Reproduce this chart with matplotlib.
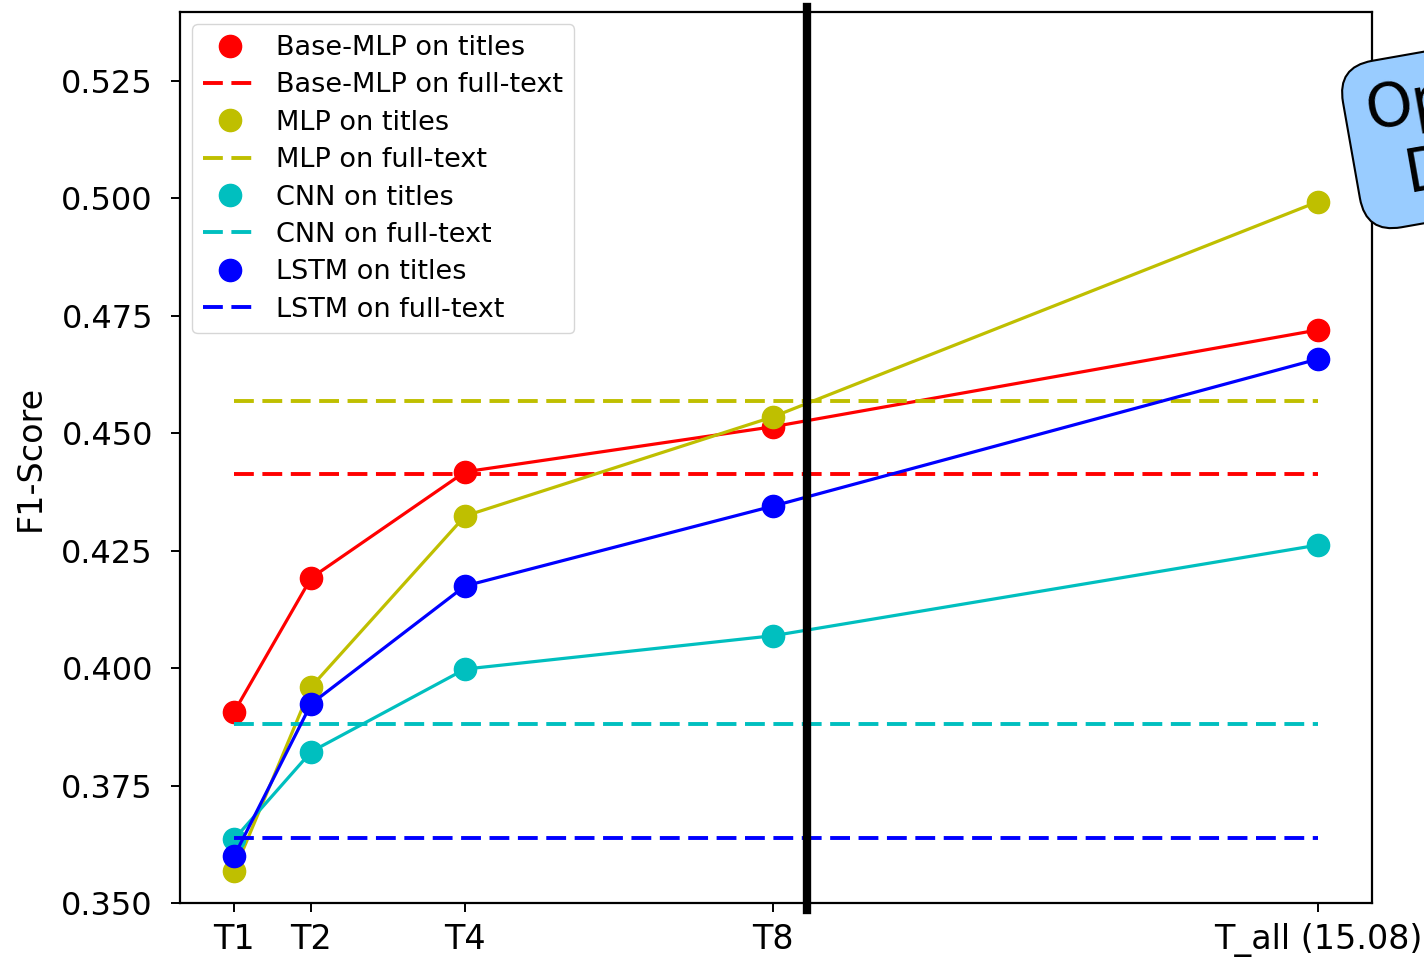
import matplotlib
matplotlib.use('Agg')
import matplotlib.pyplot as plt
from matplotlib.ticker import FormatStrFormatter

# ---- data ----
x_labels = ['T1', 'T2', 'T4', 'T8', 'T_all (15.08)']
x_vals = [1, 2, 4, 8, 15.08]
models = ['Base-MLP', 'MLP', 'CNN', 'LSTM']
colors = ['r', 'y', 'c', 'b']
base_mlp_titles = [0.3907, 0.4192, 0.4418, 0.4514, 0.4720]
mlp_titles = [0.3568, 0.3960, 0.4324, 0.4535, 0.4993]
cnn_titles = [0.3636, 0.3822, 0.3998, 0.4069, 0.4262]
lstm_titles = [0.3600, 0.3924, 0.4175, 0.4345, 0.4658]
full_text = [0.4414, 0.4569, 0.3881, 0.3638]
y_ticks = [0.350, 0.375, 0.400, 0.425, 0.450, 0.475, 0.500, 0.525]
marker_x = 8.44

titles = [base_mlp_titles, mlp_titles, cnn_titles, lstm_titles]

fig = plt.figure(figsize=(14.24, 9.59), dpi=100)
ax = fig.add_axes([0.1264, 0.0584, 0.8371, 0.9291])

for name, c, ys, ft in zip(models, colors, titles, full_text):
    ax.plot(x_vals, ys, 'o', color=c, ms=16, label=f'{name} on titles')
    ax.plot([x_vals[0], x_vals[-1]], [ft, ft], color=c, lw=2.8,
            dashes=(5.1, 2.2), label=f'{name} on full-text')
    ax.plot(x_vals, ys, '-', color=c, lw=2.3)

ax.set_ylim(0.35, 0.5397)
ax.set_yticks(y_ticks)
ax.yaxis.set_major_formatter(FormatStrFormatter('%.3f'))
ax.set_xticks(x_vals)
ax.set_xticklabels(x_labels)
ax.tick_params(axis='y', labelsize=23, length=6.5, width=1.4, pad=13)
ax.tick_params(axis='x', labelsize=24, length=6.5, width=1.4, pad=8)
for s in ax.spines.values():
    s.set_linewidth(1.6)

ax.set_ylabel('F1-Score', fontsize=24)
ax.yaxis.set_label_coords(-0.112, 0.5)

ax.legend(loc='upper left', fontsize=19.5, borderaxespad=0.45,
          labelspacing=0.42, handletextpad=0.7)

ax.axvline(marker_x, ymin=-0.008, ymax=1.006, color='k', lw=6, clip_on=False)

fig.text(1361 / 1424, 1 - 84 / 959, 'Optimal\nDepth', fontsize=43, rotation=10,
         rotation_mode='anchor', ha='left', va='top', multialignment='center',
         bbox=dict(boxstyle='round,pad=0.35,rounding_size=0.6', fc='#99ccff',
                   ec='k', lw=1.5))

fig.savefig('out.png', dpi=100)
